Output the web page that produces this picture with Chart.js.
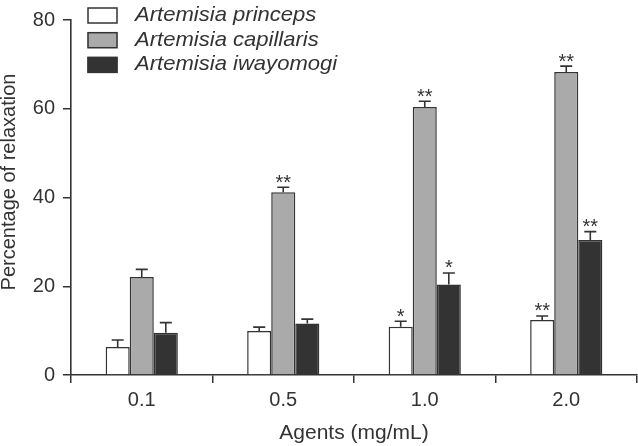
<!DOCTYPE html>
<html>
<head>
<meta charset="utf-8">
<script src="https://cdn.jsdelivr.net/npm/chart.js@4"></script>
<style>
  html, body { margin: 0; padding: 0; background: #fff; }
  #wrap { width: 638px; height: 446px; }
</style>
</head>
<body>
<div id="wrap"><canvas id="relaxChart" width="638" height="446"></canvas></div>
<script>
const doses = ["0.1", "0.5", "1.0", "2.0"];
const yTicks = [0, 20, 40, 60, 80];
const yTitle = "Percentage of relaxation";
const xTitle = "Agents (mg/mL)";

const princeps = [6.3, 9.9, 10.9, 12.4];
const princepsErr = [1.6, 0.9, 1.2, 0.9];
const princepsSig = ["", "", "*", "**"];

const capillaris = [22.1, 41.2, 60.4, 68.3];
const capillarisErr = [1.7, 1.1, 1.3, 1.3];
const capillarisSig = ["", "**", "**", "**"];

const iwayomogi = [9.5, 11.6, 20.4, 30.4];
const iwayomogiErr = [2.3, 1.0, 2.6, 1.9];
const iwayomogiSig = ["", "", "*", "**"];

const INK = "#333333";
const FONT = "'Liberation Sans', Arial, Helvetica, sans-serif";

// error bars + significance stars on top of each bar
const errorBars = {
  id: "errorBars",
  afterDatasetsDraw(chart) {
    const ctx = chart.ctx;
    const y = chart.scales.y;
    ctx.save();
    chart.data.datasets.forEach((ds, i) => {
      chart.getDatasetMeta(i).data.forEach((bar, j) => {
        const top = y.getPixelForValue(ds.data[j]);
        const cap = y.getPixelForValue(ds.data[j] + ds.err[j]);
        ctx.strokeStyle = INK;
        ctx.lineWidth = 1.6;
        ctx.beginPath();
        ctx.moveTo(bar.x, top);
        ctx.lineTo(bar.x, cap);
        ctx.moveTo(bar.x - 6, cap);
        ctx.lineTo(bar.x + 6, cap);
        ctx.stroke();
        if (ds.sig[j]) {
          ctx.fillStyle = INK;
          ctx.font = "20px " + FONT;
          ctx.textAlign = "center";
          ctx.textBaseline = "alphabetic";
          ctx.fillText(ds.sig[j], bar.x, cap + 1.5);
        }
      });
    });
    ctx.restore();
  },
};

// legend in the upper left, boxes + italic names; y title sits a bit above centre
const boxLegend = {
  id: "boxLegend",
  afterDraw(chart) {
    const ctx = chart.ctx;
    ctx.save();
    chart.data.datasets.forEach((ds, i) => {
      const top = 7.5 + i * 24.7;
      ctx.fillStyle = ds.backgroundColor;
      ctx.fillRect(87.5, top, 30, 16);
      ctx.strokeStyle = INK;
      ctx.lineWidth = 1.5;
      ctx.strokeRect(88, top + 0.5, 29, 15);
      ctx.save();
      ctx.translate(135, 21 + i * 24.7);
      ctx.scale(1.05, 1);
      ctx.fillStyle = INK;
      ctx.font = "italic 21px " + FONT;
      ctx.textAlign = "left";
      ctx.textBaseline = "alphabetic";
      ctx.fillText(ds.label, 0, 0);
      ctx.restore();
    });

    ctx.translate(9.5, 182);
    ctx.rotate(-Math.PI / 2);
    ctx.fillStyle = INK;
    ctx.font = "20px " + FONT;
    ctx.textAlign = "center";
    ctx.textBaseline = "middle";
    ctx.fillText(yTitle, 0, 0);
    ctx.restore();
  },
};

const barStyle = { borderColor: INK, borderWidth: 1.5, borderSkipped: "bottom", categoryPercentage: 0.51, barPercentage: 1.0 };

new Chart(document.getElementById("relaxChart"), {
  type: "bar",
  data: {
    labels: doses,
    datasets: [
      { label: "Artemisia princeps", data: princeps, err: princepsErr, sig: princepsSig, backgroundColor: "#ffffff", ...barStyle },
      { label: "Artemisia capillaris", data: capillaris, err: capillarisErr, sig: capillarisSig, backgroundColor: "#aaaaaa", ...barStyle },
      { label: "Artemisia iwayomogi", data: iwayomogi, err: iwayomogiErr, sig: iwayomogiSig, backgroundColor: "#333333", ...barStyle },
    ],
  },
  options: {
    responsive: false,
    animation: false,
    layout: { padding: { top: 8, right: 1, left: 0, bottom: 0 } },
    plugins: { legend: { display: false }, tooltip: { enabled: false } },
    scales: {
      x: {
        afterFit: (s) => { s.height = 71; },
        grid: { display: true, offset: true, drawOnChartArea: false, tickLength: 8, color: INK, lineWidth: 1.5 },
        border: { color: INK, width: 1.6 },
        ticks: { color: INK, font: { size: 20, family: FONT }, padding: 5 },
        title: { display: true, text: xTitle, color: INK, font: { size: 21, family: FONT, lineHeight: 1.2 }, padding: { top: 0, bottom: 0 } },
      },
      y: {
        min: 0,
        max: 80,
        afterFit: (s) => { s.width = 71; },
        afterBuildTicks: (s) => { s.ticks = yTicks.map((v) => ({ value: v })); },
        grid: { drawOnChartArea: false, tickLength: 8, color: INK, lineWidth: 1.5 },
        border: { color: INK, width: 1.6 },
        ticks: { color: INK, font: { size: 20, family: FONT }, padding: 8 },
      },
    },
  },
  plugins: [errorBars, boxLegend],
});
</script>
</body>
</html>
